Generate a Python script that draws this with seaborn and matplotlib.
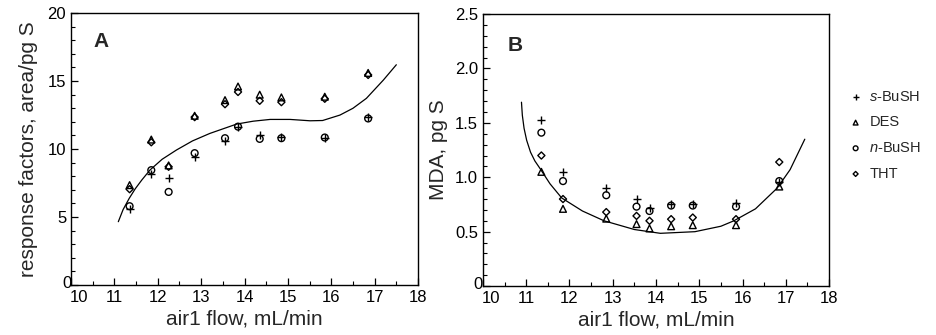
import numpy as np
import pandas as pd
import matplotlib
matplotlib.use('Agg')
import matplotlib.pyplot as plt
import matplotlib.transforms as mtransforms
from matplotlib.ticker import MultipleLocator, FixedLocator, FixedFormatter
import seaborn as sns

# panel A: response factors (area/pg S) vs air1 flow
flow_a = [11.35, 11.85, 12.25, 12.85, 13.55, 13.85, 14.35, 14.85, 15.85, 16.85]
sbush_a = [5.6, 8.2, 7.9, 9.45, 10.6, 11.6, 11.05, 10.9, 10.85, 12.35]
des_a = [7.35, 10.7, 8.8, 12.45, 13.6, 14.6, 14.0, 13.8, 13.85, 15.6]
nbush_a = [5.8, 8.45, 6.85, 9.7, 10.8, 11.65, 10.75, 10.8, 10.85, 12.25]
tht_a = [7.05, 10.5, 8.7, 12.35, 13.3, 14.2, 13.55, 13.45, 13.7, 15.45]
curve_a_x = [11.09, 11.2, 11.34, 11.48, 11.63, 11.82, 12.1, 12.43, 12.8, 13.2, 13.82, 14.2,
             14.59, 15.05, 15.51, 15.8, 16.2, 16.5, 16.81, 17.2, 17.5]
curve_a_y = [4.66, 5.55, 6.37, 7.08, 7.72, 8.46, 9.25, 9.93, 10.6, 11.15, 11.84, 12.05,
             12.18, 12.18, 12.08, 12.1, 12.5, 13.0, 13.73, 15.07, 16.2]

# panel B: MDA (pg S) vs air1 flow
flow_b = [11.35, 11.85, 12.85, 13.55, 13.85, 14.35, 14.85, 15.85, 16.85]
sbush_b = [1.53, 1.05, 0.90, 0.80, 0.72, 0.75, 0.75, 0.76, 0.96]
des_b = [1.05, 0.71, 0.62, 0.57, 0.53, 0.55, 0.56, 0.56, 0.915]
nbush_b = [1.41, 0.965, 0.835, 0.73, 0.69, 0.74, 0.74, 0.73, 0.965]
tht_b = [1.20, 0.80, 0.68, 0.645, 0.60, 0.615, 0.63, 0.615, 1.14]
curve_b_x = [10.89, 10.91, 10.95, 11.01, 11.1, 11.2, 11.32, 11.55, 11.82, 12.3, 12.8,
             13.5, 14.1, 14.9, 15.5, 15.8, 16.3, 16.8, 17.1, 17.44]
curve_b_y = [1.69, 1.57, 1.45, 1.34, 1.23, 1.15, 1.08, 0.94, 0.81, 0.69, 0.60,
             0.52, 0.485, 0.50, 0.55, 0.60, 0.71, 0.90, 1.07, 1.35]

compounds = ['$s$-BuSH', 'DES', '$n$-BuSH', 'THT']
markers = ['+', '^', 'o', 'D']
sizes = [36, 24, 24, 13]

x_ticks = [10, 11, 12, 13, 14, 15, 16, 17, 18]
ya_ticks = [0, 5, 10, 15, 20]
ya_labels = ['0', '5', '10', '15', '20']
yb_ticks = [0, 0.5, 1.0, 1.5, 2.0, 2.5]
yb_labels = ['0', '0.5', '1.0', '1.5', '2.0', '2.5']

sns.set_style('ticks')
plt.rcParams['font.family'] = ['Liberation Sans', 'DejaVu Sans']
plt.rcParams['mathtext.fontset'] = 'custom'
plt.rcParams['mathtext.it'] = 'Liberation Sans:italic'
plt.rcParams['mathtext.rm'] = 'Liberation Sans'

fig = plt.figure(figsize=(9.36, 3.35), dpi=100)
ax1 = fig.add_axes([0.0759, 0.149, 0.3707, 0.812])
ax2 = fig.add_axes([0.516, 0.146, 0.3697, 0.812])


def draw_panel(ax, flow, series, cx, cy):
    for vals, name, m, s in zip(series, compounds, markers, sizes):
        df = pd.DataFrame({'flow': flow, 'val': vals})
        if m == '+':
            sns.scatterplot(data=df, x='flow', y='val', marker=m, s=s, color='black',
                            linewidth=1.0, ax=ax, label=name, legend=False)
        else:
            sns.scatterplot(data=df, x='flow', y='val', marker=m, s=s, facecolor='none',
                            edgecolor='black', linewidth=1.0, ax=ax, label=name, legend=False)
    sns.lineplot(x=cx, y=cy, sort=False, estimator=None, color='black', lw=0.9,
                 ax=ax, legend=False)
    ax.set_xlim(10, 18)
    ax.xaxis.set_major_locator(FixedLocator(x_ticks))
    ax.xaxis.set_minor_locator(MultipleLocator(0.5))
    ax.tick_params(which='both', direction='in', top=False, right=False,
                   labelsize=12, colors='black')
    ax.tick_params(which='major', length=5, width=0.9)
    ax.tick_params(which='minor', length=3, width=0.8)
    ax.set_xlabel('air1 flow, mL/min', fontsize=15, labelpad=3)
    for sp in ax.spines.values():
        sp.set_visible(True)
        sp.set_linewidth(1.0)
        sp.set_color('black')
    if ax.get_legend() is not None:
        ax.get_legend().remove()


def nudge_corner_labels(ax):
    # the "0" and "10" at the lower left corner sit apart, as in the original
    xl = ax.xaxis.get_major_ticks()[0].label1
    xl.set_transform(xl.get_transform() + mtransforms.ScaledTranslation(0.08, 0, fig.dpi_scale_trans))
    yl = ax.yaxis.get_major_ticks()[0].label1
    yl.set_transform(yl.get_transform() + mtransforms.ScaledTranslation(0.05, 0.03, fig.dpi_scale_trans))


draw_panel(ax1, flow_a, [sbush_a, des_a, nbush_a, tht_a], curve_a_x, curve_a_y)
ax1.set_ylim(0, 20)
ax1.yaxis.set_major_locator(FixedLocator(ya_ticks))
ax1.yaxis.set_major_formatter(FixedFormatter(ya_labels))
ax1.yaxis.set_minor_locator(MultipleLocator(1))
ax1.set_ylabel('response factors, area/pg S', fontsize=15, labelpad=7)
ax1.text(0.086, 0.897, 'A', transform=ax1.transAxes, fontsize=15,
         fontweight='bold', ha='center', va='center')
nudge_corner_labels(ax1)

draw_panel(ax2, flow_b, [sbush_b, des_b, nbush_b, tht_b], curve_b_x, curve_b_y)
ax2.set_ylim(0, 2.5)
ax2.yaxis.set_major_locator(FixedLocator(yb_ticks))
ax2.yaxis.set_major_formatter(FixedFormatter(yb_labels))
ax2.yaxis.set_minor_locator(MultipleLocator(0.1))
ax2.set_ylabel('MDA, pg S', fontsize=15, labelpad=5)
ax2.text(0.092, 0.886, 'B', transform=ax2.transAxes, fontsize=15,
         fontweight='bold', ha='center', va='center')
nudge_corner_labels(ax2)

handles, labels = ax2.get_legend_handles_labels()
leg = ax2.legend(handles[:4], labels[:4], loc='upper left', bbox_to_anchor=(1.02, 0.77),
                 frameon=False, fontsize=10.5, handletextpad=0.5, labelspacing=0.8,
                 markerscale=0.7, handlelength=0.9)

fig.savefig('out.png', dpi=100)
